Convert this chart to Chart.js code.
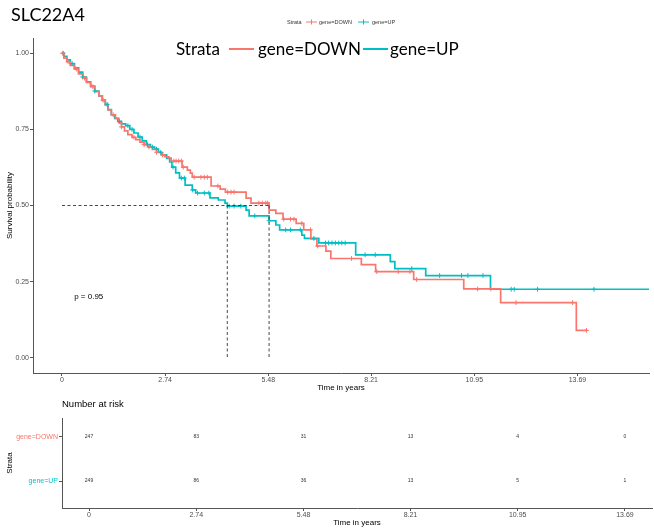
<!DOCTYPE html>
<html>
<head>
<meta charset="utf-8">
<script src="https://cdn.jsdelivr.net/npm/chart.js@4.4.1/dist/chart.umd.min.js"></script>
<style>
  html, body { margin: 0; padding: 0; background: #fff; }
  #wrap { position: relative; width: 654px; height: 531px; overflow: hidden; }
  canvas { position: absolute; left: 0; }
  #km { top: 0; }
  #risk { top: 392px; }
</style>
</head>
<body>
<div id="wrap">
  <canvas id="km" width="654" height="393"></canvas>
  <canvas id="risk" width="654" height="139"></canvas>
</div>
<script>
// strata
const strata = ['gene=DOWN', 'gene=UP'];
const strataColors = ['#F8766D', '#00BFC4'];

// KM curve, gene=DOWN (time in years, survival after the step)
const downTimes = [0, 0.05, 0.13, 0.22, 0.33, 0.44, 0.55, 0.65, 0.76, 0.87,
  0.98, 1.07, 1.15, 1.22, 1.31, 1.42, 1.51, 1.58, 1.66, 1.75,
  1.86, 1.96, 2.07, 2.18, 2.29, 2.40, 2.51, 2.64, 2.73, 2.84,
  2.90, 3.19, 3.33, 3.41, 3.46, 3.96, 4.20, 4.34, 4.89, 5.02,
  5.50, 5.68, 5.87, 6.22, 6.42, 6.61, 6.77, 7.01, 7.14, 7.95,
  8.33, 9.34, 10.67, 11.65, 13.66, 13.95];
const downSurv = [1.0, 0.984, 0.972, 0.96, 0.948, 0.932, 0.918, 0.904, 0.89, 0.874,
  0.86, 0.846, 0.83, 0.814, 0.798, 0.786, 0.772, 0.758, 0.745, 0.733,
  0.724, 0.716, 0.708, 0.70, 0.692, 0.684, 0.675, 0.666, 0.66, 0.656,
  0.646, 0.626, 0.616, 0.606, 0.593, 0.564, 0.554, 0.544, 0.524, 0.508,
  0.485, 0.474, 0.455, 0.441, 0.42, 0.39, 0.367, 0.35, 0.326, 0.306,
  0.283, 0.257, 0.226, 0.181, 0.09, 0.09];
const downCensor = [0.02, 0.16, 0.38, 0.60, 0.82, 1.09, 1.36, 1.58, 1.91, 2.18,
  2.31, 2.51, 2.67, 2.97, 3.03, 3.10, 3.17, 3.22, 3.51, 3.69, 3.78, 3.86, 4.14,
  4.40, 4.49, 4.57, 5.23, 5.32, 5.41, 5.46, 5.89, 6.07, 6.16, 6.37, 6.60, 6.79,
  7.69, 8.36, 8.93, 9.24, 9.42, 11.04, 11.39, 12.06, 13.56, 13.93];

// KM curve, gene=UP
const upTimes = [0, 0.05, 0.13, 0.22, 0.33, 0.44, 0.55, 0.65, 0.76, 0.87,
  0.98, 1.07, 1.15, 1.22, 1.31, 1.40, 1.48, 1.58, 1.69, 1.80,
  1.91, 2.02, 2.13, 2.24, 2.35, 2.46, 2.56, 2.67, 2.78, 2.86,
  2.92, 3.02, 3.12, 3.27, 3.46, 3.55, 3.93, 4.15, 4.33, 4.39,
  4.89, 4.97, 5.50, 5.68, 5.78, 6.37, 6.44, 6.82, 7.80, 8.72,
  8.84, 9.66, 11.38, 15.59];
const upSurv = [1.0, 0.99, 0.978, 0.966, 0.952, 0.938, 0.922, 0.906, 0.892, 0.876,
  0.86, 0.845, 0.832, 0.815, 0.798, 0.786, 0.776, 0.768, 0.762, 0.75,
  0.738, 0.725, 0.712, 0.70, 0.692, 0.685, 0.674, 0.666, 0.655, 0.643,
  0.626, 0.607, 0.59, 0.567, 0.551, 0.541, 0.525, 0.518, 0.508, 0.498,
  0.485, 0.466, 0.45, 0.436, 0.42, 0.403, 0.392, 0.377, 0.338, 0.316,
  0.293, 0.27, 0.225, 0.225];
const upCensor = [0.03, 0.27, 0.55, 0.87, 1.20, 1.53, 1.75, 1.86, 2.07, 2.27,
  2.40, 2.51, 2.62, 2.95, 3.17, 3.25, 3.47, 3.60, 3.78, 3.90, 4.44, 4.57, 4.75,
  5.12, 5.50, 5.94, 6.07, 6.33, 6.69, 7.00, 7.08, 7.17, 7.26, 7.35, 7.43, 7.52,
  8.05, 8.32, 9.29, 10.03, 10.61, 10.78, 11.18, 11.93, 12.01, 12.63, 14.13];

// median survival (UP, DOWN) and p value
const medianTimes = [4.39, 5.50];
const medianLevel = 0.5;
const pValueText = 'p = 0.95';
const pValuePos = [0.71, 0.2];

// axes and number at risk
const xTickValues = [0, 2.74, 5.48, 8.21, 10.95, 13.69];
const xTickLabels = ['0', '2.74', '5.48', '8.21', '10.95', '13.69'];
const yTickValues = [0, 0.25, 0.5, 0.75, 1];
const riskDown = [247, 83, 31, 13, 4, 0];
const riskUp = [249, 86, 36, 13, 5, 1];

const axisGrey = '#555';
const textGrey = '#4D4D4D';
const sans = "'Liberation Sans', Arial, sans-serif";

function points(times, surv) {
  return times.map((t, i) => ({ x: t, y: surv[i] }));
}
// survival level of the curve at time t, for placing censor marks
function survAt(times, surv, t) {
  let s = surv[0];
  for (let i = 0; i < times.length; i++) if (times[i] <= t) s = surv[i];
  return s;
}
function censorPoints(cens, times, surv) {
  return cens.map(t => ({ x: t, y: survAt(times, surv, t) }));
}

const stepLine = (label, data, color) => ({
  type: 'line', label, data, stepped: true, borderColor: color,
  borderWidth: 1.7, pointRadius: 0, fill: false, order: 2
});
const censorSet = (data, color) => ({
  type: 'scatter', data, pointStyle: 'cross', pointRadius: 2.4,
  borderColor: color, borderWidth: 1, backgroundColor: color, order: 1
});
const dashed = data => ({
  type: 'line', data, borderColor: '#333', borderWidth: 0.9,
  borderDash: [3, 2.5], pointRadius: 0, fill: false, order: 0
});

// titles, legends and p value drawn on top of the plot
const kmDecor = {
  id: 'kmDecor',
  afterDraw(chart) {
    const ctx = chart.ctx;
    const x = chart.scales.x, y = chart.scales.y;
    ctx.save();
    ctx.fillStyle = '#000';
    ctx.textBaseline = 'alphabetic';
    ctx.textAlign = 'left';
    ctx.font = "18px Lato, sans-serif";
    ctx.fillText('SLC22A4', 11, 21);

    // small ggplot legend
    ctx.font = '5.5px ' + sans;
    ctx.fillStyle = '#333';
    ctx.textBaseline = 'middle';
    ctx.fillText('Strata', 287, 22);
    const small = [[306, 319], [358, 372]];
    small.forEach((p, i) => {
      ctx.strokeStyle = strataColors[i];
      ctx.lineWidth = 1;
      ctx.beginPath();
      ctx.moveTo(p[0], 22); ctx.lineTo(p[0] + 11, 22);
      ctx.moveTo(p[0] + 5.5, 19.5); ctx.lineTo(p[0] + 5.5, 24.5);
      ctx.stroke();
      ctx.fillText(strata[i], p[1], 22);
    });

    // large legend
    ctx.font = "17px Lato, sans-serif";
    ctx.fillStyle = '#000';
    ctx.textBaseline = 'alphabetic';
    ctx.fillText('Strata', 176, 55);
    const big = [[229, 258], [363, 390]];
    big.forEach((p, i) => {
      ctx.strokeStyle = strataColors[i];
      ctx.lineWidth = 2;
      ctx.beginPath();
      ctx.moveTo(p[0], 49); ctx.lineTo(p[0] + 25, 49);
      ctx.stroke();
      ctx.fillText(strata[i], p[1], 55);
    });

    ctx.font = '8px ' + sans;
    ctx.fillStyle = '#000';
    ctx.textAlign = 'center';
    ctx.textBaseline = 'middle';
    ctx.fillText(pValueText, x.getPixelForValue(pValuePos[0]), y.getPixelForValue(pValuePos[1]));
    ctx.restore();
  }
};

new Chart(document.getElementById('km'), {
  data: {
    datasets: [
      stepLine(strata[0], points(downTimes, downSurv), strataColors[0]),
      stepLine(strata[1], points(upTimes, upSurv), strataColors[1]),
      censorSet(censorPoints(downCensor, downTimes, downSurv), strataColors[0]),
      censorSet(censorPoints(upCensor, upTimes, upSurv), strataColors[1]),
      dashed([{ x: 0, y: medianLevel }, { x: medianTimes[1], y: medianLevel }]),
      dashed([{ x: medianTimes[0], y: medianLevel }, { x: medianTimes[0], y: 0 }]),
      dashed([{ x: medianTimes[1], y: medianLevel }, { x: medianTimes[1], y: 0 }])
    ]
  },
  options: {
    responsive: false,
    animation: false,
    devicePixelRatio: 1,
    layout: { padding: { top: 38, right: 2, left: 0, bottom: 0 } },
    plugins: { legend: { display: false }, tooltip: { enabled: false } },
    scales: {
      x: {
        type: 'linear', min: -0.77, max: 15.59,
        afterBuildTicks: s => { s.ticks = xTickValues.map(v => ({ value: v })); },
        afterFit: s => { s.height = 20; },
        ticks: {
          autoSkip: false, maxRotation: 0, padding: 0,
          color: textGrey, font: { family: sans, size: 7 },
          callback: (v, i) => xTickLabels[i]
        },
        grid: { drawOnChartArea: false, color: axisGrey, tickLength: 3 },
        border: { color: axisGrey, width: 1 },
        title: { display: true, text: 'Time in years', color: '#000',
          font: { family: sans, size: 8 }, padding: { top: 0, bottom: 0 } }
      },
      y: {
        type: 'linear', min: -0.05, max: 1.05,
        afterBuildTicks: s => { s.ticks = yTickValues.map(v => ({ value: v })); },
        afterFit: s => { s.width = 33; },
        ticks: {
          padding: 1, color: textGrey, font: { family: sans, size: 7 },
          callback: v => v.toFixed(2)
        },
        grid: { drawOnChartArea: false, color: axisGrey, tickLength: 3 },
        border: { color: axisGrey, width: 1 },
        title: { display: true, text: 'Survival probability', color: '#000',
          font: { family: sans, size: 8 }, padding: { top: 5, bottom: 0 } }
      }
    }
  },
  plugins: [kmDecor]
});

// number-at-risk table
const riskRows = [riskDown, riskUp];
const rowValues = [2, 1];

const riskDecor = {
  id: 'riskDecor',
  afterDraw(chart) {
    const ctx = chart.ctx;
    const x = chart.scales.x, y = chart.scales.y;
    ctx.save();
    ctx.fillStyle = '#000';
    ctx.font = '9.5px ' + sans;
    ctx.textAlign = 'left';
    ctx.textBaseline = 'middle';
    ctx.fillText('Number at risk', chart.chartArea.left, 12);
    ctx.font = '5px ' + sans;
    ctx.fillStyle = '#333';
    ctx.textAlign = 'center';
    riskRows.forEach((row, r) => {
      row.forEach((n, i) => {
        ctx.fillText(String(n), x.getPixelForValue(xTickValues[i]), y.getPixelForValue(rowValues[r]));
      });
    });
    ctx.restore();
  }
};

new Chart(document.getElementById('risk'), {
  type: 'scatter',
  data: { datasets: [] },
  options: {
    responsive: false,
    animation: false,
    devicePixelRatio: 1,
    layout: { padding: { top: 26, right: 2, left: 0, bottom: 0 } },
    plugins: { legend: { display: false }, tooltip: { enabled: false } },
    scales: {
      x: {
        type: 'linear', min: -0.69, max: 14.38,
        afterBuildTicks: s => { s.ticks = xTickValues.map(v => ({ value: v })); },
        afterFit: s => { s.height = 23; },
        ticks: {
          autoSkip: false, maxRotation: 0, padding: 0,
          color: textGrey, font: { family: sans, size: 7 },
          callback: (v, i) => xTickLabels[i]
        },
        grid: { drawOnChartArea: false, color: axisGrey, tickLength: 3 },
        border: { color: axisGrey, width: 1 },
        title: { display: true, text: 'Time in years', color: '#000',
          font: { family: sans, size: 8 }, padding: { top: 0, bottom: 3 } }
      },
      y: {
        type: 'linear', min: 0.39, max: 2.43,
        afterBuildTicks: s => { s.ticks = rowValues.map(v => ({ value: v })); },
        afterFit: s => { s.width = 62; },
        ticks: {
          padding: 1, font: { family: sans, size: 7 },
          color: ctx => strataColors[rowValues.indexOf(ctx.tick.value)],
          callback: v => strata[rowValues.indexOf(v)]
        },
        grid: { drawOnChartArea: false, color: axisGrey, tickLength: 3 },
        border: { color: axisGrey, width: 1 },
        title: { display: true, text: 'Strata', color: '#000',
          font: { family: sans, size: 8 }, padding: { top: 5, bottom: 0 } }
      }
    }
  },
  plugins: [riskDecor]
});
</script>
</body>
</html>
